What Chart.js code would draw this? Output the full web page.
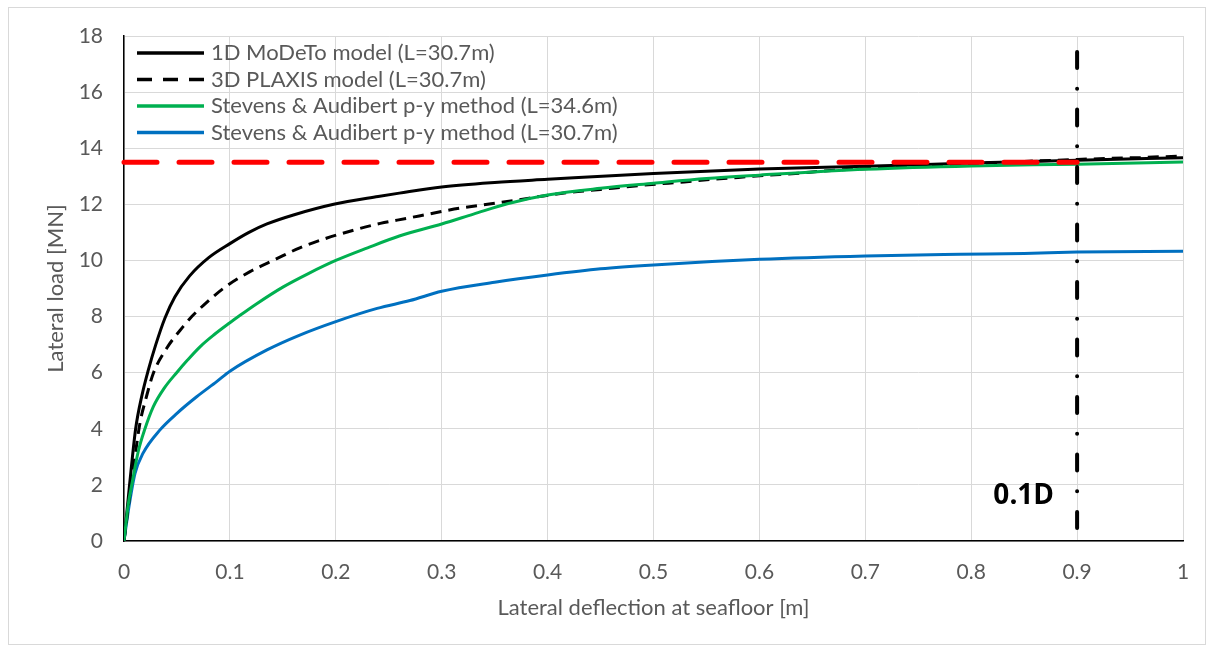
<!DOCTYPE html>
<html><head><meta charset="utf-8">
<script src="https://cdn.jsdelivr.net/npm/chart.js@4.4.1/dist/chart.umd.min.js"></script>
<style>html,body{margin:0;padding:0;background:#fff;}#wrap{position:absolute;left:0;top:0;width:1212px;height:652px;}</style>
</head><body><div id="wrap"><canvas id="c" width="1212" height="652"></canvas></div>
<script>
// ---- data ----
const xTickLabels = ['0','0.1','0.2','0.3','0.4','0.5','0.6','0.7','0.8','0.9','1'];
const yTickLabels = ['0','2','4','6','8','10','12','14','16','18'];

const modetoX = [0,0.005,0.011,0.017,0.023,0.03,0.0387,0.048,0.062,0.08,0.1,0.118,0.135,0.16,0.198,0.24,0.26,0.3,0.35,0.4,0.5,0.6,0.7,0.8,0.9,1.0];
const modetoY = [0,1.9,4.0,5.2,6.1,7.0,7.95,8.7,9.45,10.1,10.6,11.0,11.3,11.62,12.0,12.28,12.4,12.62,12.78,12.89,13.1,13.26,13.36,13.47,13.57,13.66];

const plaxisX = [0,0.005,0.01,0.015,0.0208,0.0277,0.0403,0.056,0.064,0.075,0.0954,0.119,0.143,0.166,0.191,0.217,0.242,0.267,0.294,0.317,0.345,0.371,0.396,0.422,0.45,0.475,0.502,0.529,0.554,0.58,0.607,0.634,0.661,0.687,0.714,0.75,0.8,0.85,0.9,0.95,1.0];
const plaxisY = [0,1.5,2.9,4.19,5.09,5.98,6.87,7.65,8.0,8.4,9.05,9.6,10.04,10.45,10.79,11.08,11.32,11.5,11.7,11.86,12.01,12.15,12.3,12.43,12.53,12.63,12.72,12.8,12.89,12.96,13.04,13.1,13.19,13.25,13.29,13.35,13.45,13.53,13.6,13.66,13.72];

const sa346X = [0,0.004,0.008,0.0135,0.0198,0.0277,0.038,0.0497,0.06,0.072,0.085,0.1,0.108,0.125,0.15,0.175,0.2,0.23,0.26,0.3,0.33,0.362,0.4,0.45,0.5,0.55,0.6,0.7,0.8,0.9,1.0];
const sa346Y = [0,1.3,2.14,3.2,4.0,4.79,5.45,6.0,6.45,6.93,7.35,7.78,8.0,8.45,9.05,9.55,10.0,10.45,10.87,11.3,11.65,12.02,12.33,12.57,12.75,12.92,13.04,13.25,13.37,13.43,13.51];

const sa307X = [0,0.005,0.0104,0.018,0.034,0.05,0.0686,0.0875,0.1,0.135,0.166,0.2,0.239,0.27,0.3,0.35,0.4,0.45,0.5,0.6,0.7,0.79,0.85,0.9,1.0];
const sa307Y = [0,1.3,2.41,3.13,3.96,4.55,5.14,5.68,6.05,6.81,7.34,7.82,8.29,8.57,8.9,9.22,9.48,9.7,9.84,10.04,10.16,10.22,10.25,10.3,10.33];

const capacityX = [0,0.9];
const capacityY = [13.5,13.5];
const limitX = [0.9,0.9];
const limitY = [17.43,0];
const limitLabel = '0.1D';

const seriesNames = ['1D MoDeTo model (L=30.7m)','3D PLAXIS model (L=30.7m)','Stevens & Audibert p-y method (L=34.6m)','Stevens & Audibert p-y method (L=30.7m)'];

const pts = (xs, ys) => xs.map((x, i) => ({x: x, y: ys[i]}));

const FONT = 'Lato';
const GREY = '#595959';

const bgPlugin = {
  id: 'bg',
  beforeDraw(chart) {
    const ctx = chart.ctx;
    ctx.save();
    ctx.fillStyle = '#fff';
    ctx.fillRect(0, 0, chart.width, chart.height);
    ctx.strokeStyle = '#d9d9d9';
    ctx.lineWidth = 1;
    ctx.strokeRect(8.5, 7.5, 1197, 637);
    ctx.restore();
  }
};

const legendPlugin = {
  id: 'customLegend',
  afterDraw(chart) {
    const ctx = chart.ctx;
    const rows = [53, 79.5, 106, 132.5];
    ctx.save();
    chart.data.datasets.forEach((ds) => {
      if (ds.legendRow === undefined) return;
      const y = rows[ds.legendRow];
      ctx.beginPath();
      ctx.strokeStyle = ds.borderColor;
      ctx.lineWidth = 3.5;
      ctx.setLineDash(ds.legendDash || []);
      ctx.moveTo(137, y);
      ctx.lineTo(204, y);
      ctx.stroke();
      ctx.setLineDash([]);
      ctx.fillStyle = GREY;
      ctx.font = '22px ' + FONT;
      ctx.textBaseline = 'middle';
      ctx.textAlign = 'left';
      ctx.fillText(ds.label, 211, y);
    });
    const xs = chart.scales.x, ys = chart.scales.y;
    ctx.fillStyle = '#000';
    ctx.font = 'bold 28px "Open Sans"';
    ctx.textAlign = 'right';
    ctx.textBaseline = 'middle';
    ctx.fillText(limitLabel, xs.getPixelForValue(limitX[0]) - 23, ys.getPixelForValue(1.6));
    ctx.restore();
  }
};

new Chart(document.getElementById('c'), {
  type: 'scatter',
  data: {
    datasets: [
      {label: 'cap', data: pts(capacityX, capacityY), showLine: true, borderColor: '#ff0000', borderWidth: 5, borderDash: [33, 22], borderCapStyle: 'round', pointRadius: 0, order: -1, clip: false},
      {label: 'lim', data: pts(limitX, limitY), showLine: true, borderColor: '#000', borderWidth: 4, borderDash: [16, 20.7, 0.1, 20.7], borderCapStyle: 'round', pointRadius: 0, order: -2, clip: false},
      {label: seriesNames[0], legendRow: 0, data: pts(modetoX, modetoY), showLine: true, borderColor: '#000000', borderWidth: 3, pointRadius: 0, cubicInterpolationMode: 'monotone', order: 2},
      {label: seriesNames[1], legendRow: 1, legendDash: [15, 11], data: pts(plaxisX, plaxisY), showLine: true, borderColor: '#000000', borderWidth: 3, borderDash: [11, 7], pointRadius: 0, cubicInterpolationMode: 'monotone', order: 3},
      {label: seriesNames[2], legendRow: 2, data: pts(sa346X, sa346Y), showLine: true, borderColor: '#00b050', borderWidth: 3, pointRadius: 0, cubicInterpolationMode: 'monotone', order: 1},
      {label: seriesNames[3], legendRow: 3, data: pts(sa307X, sa307Y), showLine: true, borderColor: '#0070c0', borderWidth: 3, pointRadius: 0, cubicInterpolationMode: 'monotone', order: 4}
    ]
  },
  options: {
    responsive: false,
    animation: false,
    devicePixelRatio: 1,
    layout: {padding: {left: 0, top: 36, right: 29, bottom: 0}},
    plugins: {legend: {display: false}, tooltip: {enabled: false}},
    scales: {
      x: {
        type: 'linear', min: 0, max: 1,
        ticks: {stepSize: 0.1, color: GREY, font: {family: FONT, size: 21}, padding: 19,
          callback: (v) => xTickLabels[Math.round(v * 10)]},
        grid: {color: '#d9d9d9', lineWidth: 1, drawTicks: false},
        border: {color: '#000', width: 1.5},
        title: {display: true, text: 'Lateral deflection at seafloor [m]', color: GREY, font: {family: FONT, size: 22}, padding: {top: 0, bottom: 31}},
        afterFit(s) { s.height = 111; }
      },
      y: {
        type: 'linear', min: 0, max: 18,
        ticks: {stepSize: 2, color: GREY, font: {family: FONT, size: 21}, padding: 21,
          callback: (v) => yTickLabels[Math.round(v / 2)]},
        grid: {color: '#d9d9d9', lineWidth: 1, drawTicks: false},
        border: {color: '#000', width: 1.5},
        title: {display: true, text: 'Lateral load [MN]', color: GREY, font: {family: FONT, size: 22}, padding: {top: 43, bottom: 0}},
        afterFit(s) { s.width = 124; }
      }
    }
  },
  plugins: [bgPlugin, legendPlugin]
});
</script></body></html>
